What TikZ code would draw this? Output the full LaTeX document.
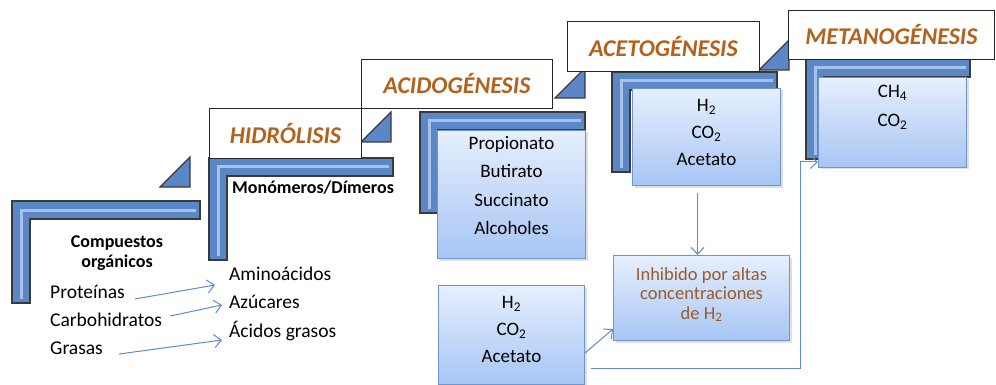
\documentclass[tikz,border=0pt]{standalone}
\usepackage{fontspec}
\setmainfont{Carlito}
\usetikzlibrary{arrows.meta, positioning, calc, shadows}
\definecolor{stairblue}{HTML}{5B87C6}
\definecolor{stairedge}{HTML}{3A3A3A}
\definecolor{hlblue}{HTML}{A6C1EA}
\definecolor{boxtop}{HTML}{E6EFFD}
\definecolor{boxbot}{HTML}{A7C5F4}
\definecolor{boxedge}{HTML}{6F95CF}
\definecolor{arrowblue}{HTML}{5B8BD3}
\definecolor{titlebrown}{HTML}{B4611C}
\definecolor{inhibtext}{HTML}{9A5A2C}

\begin{document}
\begin{tikzpicture}[
  x=1pt, y=-1pt,
  >={Straight Barb[length=7pt, width=13pt]},
  stair/.style={fill=stairblue, draw=stairedge, line width=1.3pt},
  stairhl/.style={draw=hlblue, line width=3pt},
  titlebox/.style={draw=black!85, fill=white, line width=0.9pt, anchor=north west, inner sep=0pt,
                   text=titlebrown, font=\fontsize{24}{28}\selectfont\bfseries\itshape},
  gbox/.style={draw=boxedge, line width=1pt, top color=boxtop, bottom color=boxbot, anchor=north west,
               inner sep=0pt, drop shadow={shadow xshift=2pt, shadow yshift=-2pt, opacity=0.25}},
  boxtext/.style={inner sep=0pt, align=center, anchor=north, font=\fontsize{19}{27}\selectfont},
  item/.style={inner sep=0pt, anchor=west, font=\fontsize{19.5}{22}\selectfont},
  flow/.style={draw=arrowblue, line width=1pt, ->},
]
\useasboundingbox (0,0) rectangle (996,385);

% ============ Steps (L-shaped stairs) ============
\foreach \x/\y/\w/\h in {12/201/188/102, 209/158/184/102, 420/112/165/101, 612/72/165/100, 806/59/164/100} {
  \draw[stair] (\x,\y) -- ++(\w,0) -- ++(0,18) -- ++(-\w+18,0) -- ++(0,\h-18) -- ++(-18,0) -- cycle;
  \draw[stairhl] (\x+9,\y+\h-4) -- (\x+9,\y+9) -- (\x+\w-4,\y+9);
}

% Small triangles
\foreach \x/\y in {160/187, 361/142, 555/98, 759/70} {
  \draw[stair] (\x,\y) -- ++(30,0) -- ++(0,-30) -- cycle;
}

% ============ Stage titles ============
\node[titlebox, minimum width=152pt, minimum height=50pt] (hidro) at (209,108) {HIDRÓLISIS};
\node[titlebox, minimum width=191pt, minimum height=49pt] (acido) at (361,59) {ACIDOGÉNESIS};
\node[titlebox, minimum width=192pt, minimum height=50pt] (aceto) at (567,21) {ACETOGÉNESIS};
\node[titlebox, minimum width=206pt, minimum height=49pt] (metano) at (788,10) {METANOGÉNESIS};

% ============ Left: organic compounds ============
\node[item, anchor=center, align=center, font=\fontsize{18}{20}\selectfont\bfseries] (compuestos) at (117,253) {Compuestos\\orgánicos};
\node[item] (prot) at (50,292) {Proteínas};
\node[item] (carbo) at (50,320) {Carbohidratos};
\node[item] (grasas) at (50,348) {Grasas};

\node[item, font=\fontsize{18}{20}\selectfont\bfseries] (monomeros) at (232,188) {Monómeros/Dímeros};
\node[item] (amino) at (229,274) {Aminoácidos};
\node[item] (azuc) at (229,302) {Azúcares};
\node[item] (acidos) at (229,331) {Ácidos grasos};

\draw[flow] ($(prot.east)+(10,7)$) -- ($(amino.west)+(-14,11)$);
\draw[flow] ($(carbo.east)+(8,-4)$) -- ($(azuc.west)+(-7,3)$);
\draw[flow] ($(grasas.east)+(16,6)$) -- ($(acidos.west)+(-7,9)$);

% ============ Product boxes ============
\node[gbox, minimum width=148pt, minimum height=128pt] (acidbox) at (437,130) {};
\node[boxtext, below=6pt of acidbox.north, font=\fontsize{19}{28.5}\selectfont] (acidtext) {Propionato\\Butirato\\Succinato\\Alcoholes};

\node[gbox, minimum width=148pt, minimum height=97pt] (acetbox) at (632,88) {};
\node[boxtext, below=11pt of acetbox.north] (acettext) {H\textsubscript{2}\\CO\textsubscript{2}\\Acetato};

\node[gbox, minimum width=148pt, minimum height=90pt] (ch4box) at (818,77) {};
\node[boxtext, below=8pt of ch4box.north, font=\fontsize{19}{29}\selectfont] (ch4text) {CH\textsubscript{4}\\CO\textsubscript{2}};

\node[gbox, minimum width=176pt, minimum height=85pt] (inhib) at (613,255) {};
\node[boxtext, below=12pt of inhib.north, text=inhibtext, font=\fontsize{18.5}{19.5}\selectfont] (inhibtext) {Inhibido por altas\\concentraciones\\de H\textsubscript{2}};

\node[gbox, minimum width=146pt, minimum height=99pt] (lowbox) at (438,285) {};
\node[boxtext, below=11pt of lowbox.north] (lowtext) {H\textsubscript{2}\\CO\textsubscript{2}\\Acetato};

% ============ Connectors ============
\draw[flow, shorten <=7pt] ([xshift=-4pt]inhib.north |- acetbox.south) -- ([xshift=-4pt]inhib.north);
\draw[flow] ($(lowbox.east)+(0,18)$) -- ($(inhib.south west)+(0,-12)$);
\coordinate (bend) at (800,162);
\draw[flow] ($(lowbox.east)+(6,33)$) -| (bend) -- ($(ch4box.south west)+(0,-6)$);

\end{tikzpicture}
\end{document}
